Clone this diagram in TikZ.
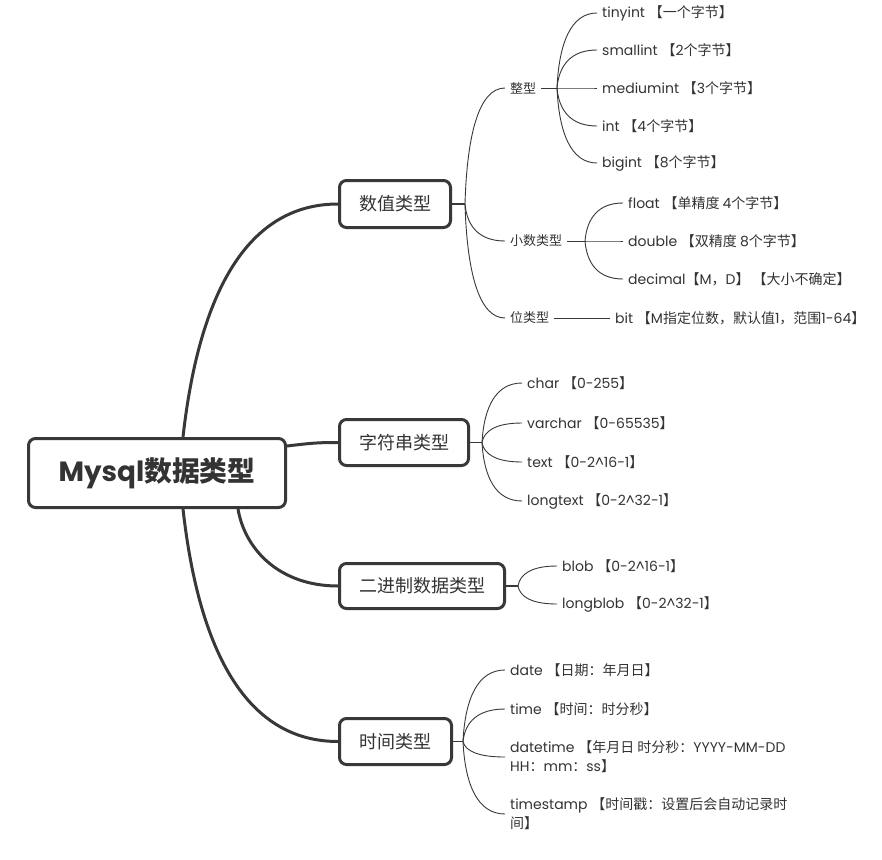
\documentclass[tikz,border=0pt]{standalone}
\usepackage{fontspec}
\setmainfont{Poppins}
\newfontfamily\cjk{Noto Sans CJK SC}
\newcommand\zh[1]{{\cjk #1}}
\usetikzlibrary{calc}
\definecolor{linec}{HTML}{383838}
\definecolor{txt}{HTML}{333333}
\newcommand\branchto[3][thinline]{\draw[#1] let \p1=(#2), \p2=(#3) in (#2) .. controls ({\x1+0.05*(\x2-\x1)},{\y1+0.6*(\y2-\y1)}) and ({\x1+0.35*(\x2-\x1)},\y2) .. (#3);}
\begin{document}
\begin{tikzpicture}[x=1pt,y=-1pt,
  box/.style={draw=linec, line width=3pt, rounded corners=7pt, text=txt, font=\fontsize{18}{22}\selectfont, inner sep=0pt},
  leaf/.style={anchor=west, inner xsep=5pt, inner ysep=2pt, text=txt, font=\fontsize{14}{19}\selectfont, align=left},
  thickline/.style={draw=linec, line width=3pt},
  midline/.style={draw=linec, line width=1.8pt},
  thinline/.style={draw=linec, line width=0.9pt}]
\useasboundingbox (0,0) rectangle (882,859);
\fill[white] (0,0) rectangle (882,859);

% boxes
\node[box, minimum width=257, minimum height=69, font=\fontsize{27.8}{32}\selectfont\bfseries] (root) at (157,473) {Mysql\zh{数据类型}};
\node[box, minimum width=111, minimum height=47] (num) at (395,204) {\zh{数值类型}};
\node[box, minimum width=129, minimum height=46] (str) at (404,442.5) {\zh{字符串类型}};
\node[box, minimum width=165, minimum height=45] (bin) at (422,586) {\zh{二进制数据类型}};
\node[box, minimum width=112, minimum height=46] (tim) at (395.5,741.5) {\zh{时间类型}};

% root connectors
\coordinate (r1) at (183,437);
\coordinate (r2) at (287,446);
\coordinate (r3) at (238,509);
\coordinate (r4) at (183,509);
\draw[thickline] (r1) .. controls +(12,-107) and +(-108,0) .. (num.west);
\draw[thickline] (r2) .. controls +(25,-3) and +(-20,0) .. (str.west);
\draw[thickline] (r3) .. controls +(7,41) and +(-58,0) .. (bin.west);
\draw[thickline] (r4) .. controls +(12,107) and +(-108,0) .. (tim.west);

% forks
\coordinate (nf) at (465,204);
\coordinate (sf) at (482,442.5);
\coordinate (bf) at (518,586);
\coordinate (tf) at (463,741.5);
\draw[midline] (num.east) -- (nf);
\draw[midline] (str.east) -- (sf);
\draw[midline] (bin.east) -- (bf);
\draw[midline] (tim.east) -- (tf);

% numeric
\node[leaf, font=\fontsize{13}{19}\selectfont] (zx) at (505,88) {\zh{整型}};
\node[leaf, font=\fontsize{13}{19}\selectfont] (xs) at (505,241) {\zh{小数类型}};
\node[leaf, font=\fontsize{13}{19}\selectfont] (wl) at (505,318) {\zh{位类型}};
\branchto{nf}{zx.west}
\branchto{nf}{xs.west}
\branchto{nf}{wl.west}

\coordinate (zf) at (557,88);
\coordinate (xf) at (585,241);
\draw[thinline] (zx.east) -- (zf);
\draw[thinline] (xs.east) -- (xf);

\node[leaf] (ti) at (597,13) {tinyint \zh{【一个字节】}};
\node[leaf] (si) at (597,50) {smallint \zh{【}2\zh{个字节】}};
\node[leaf] (mi) at (597,88) {mediumint \zh{【}3\zh{个字节】}};
\node[leaf] (ii) at (597,126) {int \zh{【}4\zh{个字节】}};
\node[leaf] (bi) at (597,163) {bigint \zh{【}8\zh{个字节】}};
\branchto{zf}{ti.west}
\branchto{zf}{si.west}
\branchto{zf}{mi.west}
\branchto{zf}{ii.west}
\branchto{zf}{bi.west}

\node[leaf] (fl) at (623,203) {float \zh{【单精度 }4\zh{个字节】}};
\node[leaf] (db) at (623,241) {double \zh{【双精度 }8\zh{个字节】}};
\node[leaf] (dc) at (623,279) {decimal\zh{【}M\zh{，}D\zh{】 【大小不确定】}};
\branchto{xf}{fl.west}
\branchto{xf}{db.west}
\branchto{xf}{dc.west}

\node[leaf] (bt) at (610,318) {bit \zh{【}M\zh{指定位数，默认值}1\zh{，范围}1-64\zh{】}};
\draw[thinline] (wl.east) -- (bt.west);

% string
\node[leaf] (ch) at (522,383) {char \zh{【}0-255\zh{】}};
\node[leaf] (vc) at (522,423) {varchar \zh{【}0-65535\zh{】}};
\node[leaf] (tx) at (522,462) {text \zh{【}0-2\textasciicircum16-1\zh{】}};
\node[leaf] (lt) at (522,501) {longtext \zh{【}0-2\textasciicircum32-1\zh{】}};
\branchto{sf}{ch.west}
\branchto{sf}{vc.west}
\branchto{sf}{tx.west}
\branchto{sf}{lt.west}

% binary
\node[leaf] (bl) at (557,566) {blob \zh{【}0-2\textasciicircum16-1\zh{】}};
\node[leaf] (lb) at (557,604) {longblob \zh{【}0-2\textasciicircum32-1\zh{】}};
\branchto{bf}{bl.west}
\branchto{bf}{lb.west}

% time
\node[leaf] (dt) at (505,670) {date \zh{【日期：年月日】}};
\node[leaf] (tm) at (505,709) {time \zh{【时间：时分秒】}};
\node[leaf] (dtt) at (505,757) {datetime \zh{【年月日 时分秒：}YYYY-MM-DD\\HH\zh{：}mm\zh{：}ss\zh{】}};
\node[leaf] (ts) at (505,814) {timestamp \zh{【时间戳：设置后会自动记录时}\\\zh{间】}};
\branchto{tf}{dt.west}
\branchto{tf}{tm.west}
\branchto{tf}{dtt.west}
\branchto{tf}{ts.west}
\end{tikzpicture}
\end{document}
